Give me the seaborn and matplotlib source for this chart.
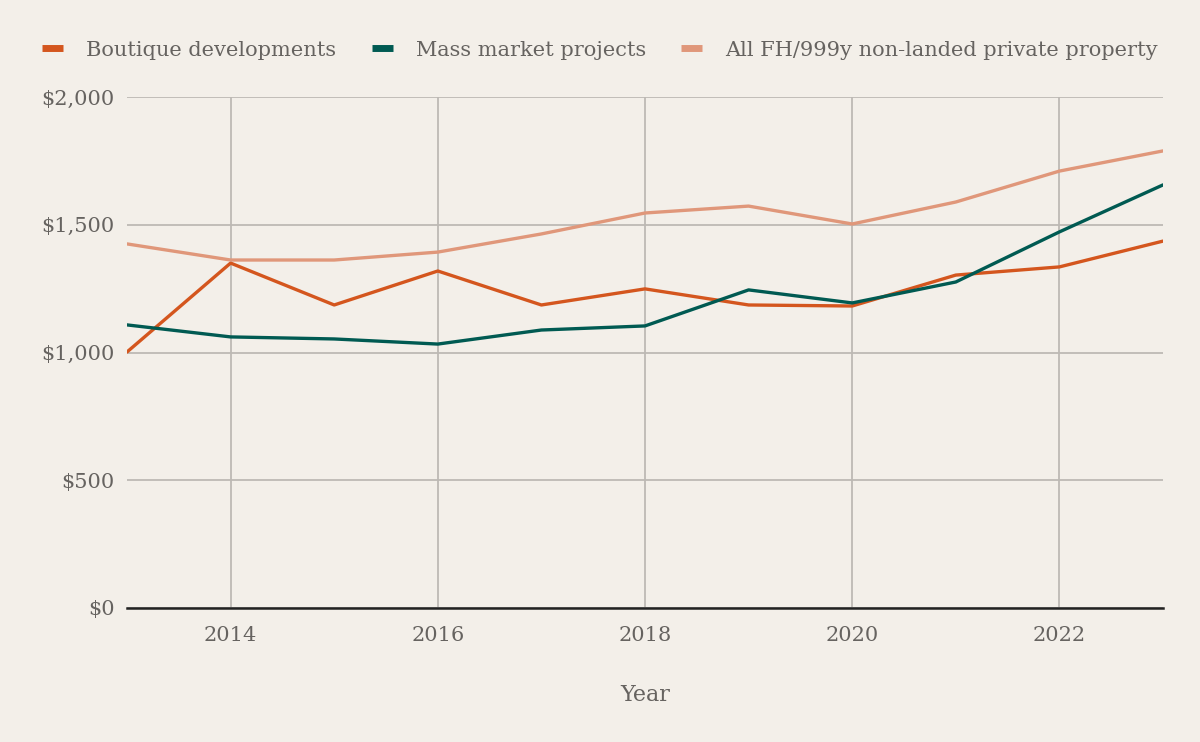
import matplotlib
matplotlib.use("Agg")
import matplotlib.pyplot as plt
import seaborn as sns
import pandas as pd
from matplotlib.lines import Line2D
from matplotlib.ticker import FuncFormatter, MultipleLocator

years = list(range(2013, 2024))
boutique = [1002, 1350, 1186, 1319, 1186, 1249, 1186, 1182, 1303, 1335, 1436]
mass_market = [1108, 1061, 1053, 1033, 1088, 1104, 1245, 1194, 1276, 1472, 1656]
all_fh = [1425, 1362, 1362, 1393, 1464, 1546, 1573, 1503, 1589, 1710, 1789]
series_names = ["Boutique developments", "Mass market projects",
                "All FH/999y non-landed private property"]
colors = ["#D4561E", "#005A52", "#E0977A"]

BG = "#F3EFE9"
TXT = "#666360"
GRID = "#BDB9B4"

df = pd.DataFrame({
    "Year": years * 3,
    "Value": boutique + mass_market + all_fh,
    "Series": [series_names[0]] * 11 + [series_names[1]] * 11 + [series_names[2]] * 11,
})

sns.set_theme(style="white")
plt.rcParams["font.family"] = ["DejaVu Serif"]

fig = plt.figure(figsize=(12, 7.42), dpi=100, facecolor=BG)
ax = fig.add_axes([127 / 1200, 134 / 742, 1036 / 1200, 511 / 742])
ax.set_facecolor(BG)

sns.lineplot(data=df, x="Year", y="Value", hue="Series", palette=colors,
             linewidth=2.4, ax=ax, legend=False, zorder=3)

ax.set_xlim(2013, 2023)
ax.set_ylim(0, 2000)
ax.set_xticks([2014, 2016, 2018, 2020, 2022])
ax.yaxis.set_major_locator(MultipleLocator(500))
ax.yaxis.set_major_formatter(FuncFormatter(lambda v, p: f"${v:,.0f}"))
ax.grid(True, color=GRID, linewidth=1.3, zorder=0)
for s in ["top", "right", "left"]:
    ax.spines[s].set_visible(False)
ax.spines["bottom"].set_color("#222222")
ax.spines["bottom"].set_linewidth(1.8)
ax.spines["bottom"].set_zorder(4)
ax.tick_params(axis="both", length=0, labelsize=15, labelcolor=TXT)
ax.tick_params(axis="x", pad=13)
ax.tick_params(axis="y", pad=9)
ax.set_xlabel("Year", fontsize=16, color=TXT, labelpad=28)
ax.set_ylabel("")

handles = [Line2D([0], [0], color=c, linewidth=5, solid_capstyle="butt") for c in colors]
fig.legend(handles, series_names, loc="center", bbox_to_anchor=(0.5, 1 - 50 / 742),
           ncol=3, frameon=False, fontsize=15, labelcolor=TXT, handlelength=1.0,
           handletextpad=1.1, columnspacing=1.7)

fig.savefig("out.png", dpi=100, facecolor=BG)
